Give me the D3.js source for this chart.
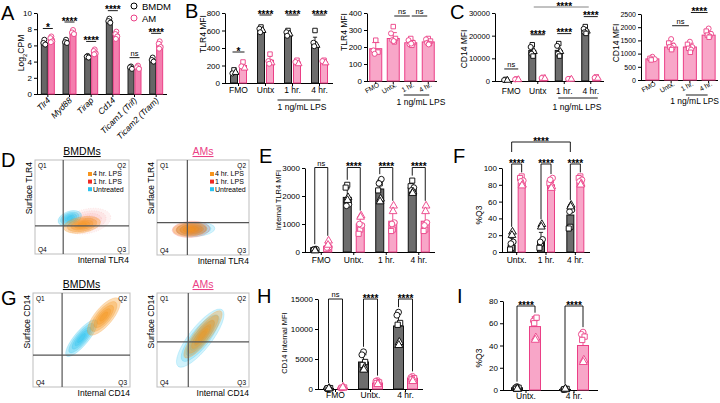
<!DOCTYPE html>
<html>
<head>
<meta charset="utf-8">
<script src="https://cdn.jsdelivr.net/npm/d3@7"></script>
<style>
body { margin: 0; background: #fff; }
svg { display: block; font-family: "Liberation Sans", Arial, Helvetica, sans-serif; }
</style>
</head>
<body>
<svg id="fig" width="720" height="403"></svg>
<script>
// ---- Panel A: RNA-seq log2CPM
const genesA = ['Tlr4', 'Myd88', 'Tirap', 'Cd14', 'Ticam1 (Trif)', 'Ticam2 (Tram)'];
const bmdmA = [6.3, 6.5, 4.6, 9.0, 3.3, 4.2];
const amA = [6.8, 7.6, 5.2, 7.3, 3.3, 6.0];
const bmdmPtsA = [[6.7, 6.3, 6.1], [6.7, 6.4, 6.3], [4.7, 4.6, 4.5], [9.3, 9.0, 8.8], [3.4, 3.3, 3.1], [4.5, 4.2, 4.0]];
const amPtsA = [[7.1, 6.9, 6.5, 6.4], [7.9, 7.6, 7.4], [5.5, 5.3, 5.0, 4.9], [7.7, 7.4, 7.1, 6.8], [3.5, 3.3, 3.1], [6.5, 6.2, 5.8, 5.6]];
const sigA = ['*', '****', '****', '****', 'ns', '****'];

// ---- Panel B: surface TLR4 MFI
const catsB = ['FMO', 'Untx', '1 hr.', '4 hr.'];
const bmdmB = [130, 610, 570, 440];
const amB = [200, 260, 240, 240];
const bmdmPtsB = [[150, 110, 120], [640, 620, 600, 580], [600, 580, 560, 540], [600, 460, 430, 420]];
const amPtsB = [[240, 190, 170], [330, 250, 230, 220], [260, 240, 220], [260, 250, 230]];
const sigB = ['*', '****', '****', '****'];
const catsB2 = ['FMO', 'Untx.', '1 hr.', '4 hr.'];
const amB2 = [190, 250, 225, 230];
const amPtsB2 = [[240, 180, 170, 160], [320, 280, 250, 240, 230, 235], [250, 240, 225, 215, 210, 220], [250, 245, 235, 225, 220, 215]];
const sigB2 = [['Untx.', '1 hr.', 'ns'], ['1 hr.', '4 hr.', 'ns']];

// ---- Panel C: CD14 MFI
const bmdmC = [500, 13500, 13500, 22500];
const amC = [700, 1300, 900, 1300];
const bmdmPtsC = [[700, 400, 300], [16000, 15000, 13000, 12000, 11000], [16500, 15500, 13000, 12000, 11000], [24000, 23000, 22000, 21500, 21000]];
const amPtsC = [[900, 700, 600], [1600, 1300, 1100], [1000, 900, 800], [1800, 1400, 1200]];
const sigC = ['ns', '****', '****', '****'];
const sigCTop = ['Untx', '4 hr.', '****'];
const amC2 = [800, 1250, 1250, 1700];
const amPtsC2 = [[880, 820, 790, 760], [1550, 1400, 1300, 1250, 1200, 1150], [1450, 1350, 1250, 1200, 1150, 1050], [1950, 1850, 1750, 1700, 1650, 1620]];
const sigC2 = [['Untx.', '1 hr.', 'ns'], ['1 hr.', '4 hr.', '****']];

// ---- Panels D / G: flow populations (data units 0-100 on both axes)
const popColor = { '4 hr. LPS': '#f7941d', '1 hr. LPS': '#ee2a24', 'Untreated': '#2bc3f0' };
const legendPops = ['4 hr. LPS', '1 hr. LPS', 'Untreated'];
const flowTlr4Bmdm = [
  { pop: '1 hr. LPS', cx: 56, cy: 35, rx: 25, ry: 13, angle: 12, alpha: 0.06 },
  { pop: 'Untreated', cx: 37, cy: 38, rx: 13, ry: 7.5, angle: 20, alpha: 0.3 },
  { pop: '4 hr. LPS', cx: 50, cy: 31, rx: 20, ry: 8.5, angle: 10, alpha: 0.32 }
];
const flowTlr4Am = [
  { pop: 'Untreated', cx: 42, cy: 27, rx: 21, ry: 7.5, angle: 3, alpha: 0.2 },
  { pop: '1 hr. LPS', cx: 37, cy: 27, rx: 20.5, ry: 8.5, angle: 3, alpha: 0.15 },
  { pop: '4 hr. LPS', cx: 36, cy: 27, rx: 18.5, ry: 7.5, angle: 3, alpha: 0.32 }
];
const flowCd14Bmdm = [
  { pop: 'Untreated', cx: 50, cy: 52, rx: 24, ry: 7.5, angle: 50, alpha: 0.3 },
  { pop: '4 hr. LPS', cx: 73, cy: 75, rx: 24, ry: 9.5, angle: 50, alpha: 0.32 }
];
const flowCd14Am = [
  { pop: 'Untreated', cx: 47, cy: 52, rx: 39, ry: 12, angle: 52, alpha: 0.22 },
  { pop: '4 hr. LPS', cx: 50, cy: 56, rx: 32, ry: 8.5, angle: 52, alpha: 0.32 }
];
const gatesD = { bmdm: [30, 30], am: [33, 34] };
const gatesG = { bmdm: [30, 34], am: [34, 48] };

// ---- Panel E: internal TLR4 MFI
const catsE = ['FMO', 'Untx.', '1 hr.', '4 hr.'];
const shapesE = ['square', 'square', 'circle', 'circle', 'triangle', 'triangle'];
const bmdmE = [80, 1950, 2250, 2300];
const amE = [200, 1000, 1100, 1100];
const bmdmPtsE = [[90, 70, 100, 80, 60, 50], [2400, 2300, 1700, 1650, 1950, 1850], [2450, 2200, 2600, 2450, 1900, 1800], [2550, 2350, 2300, 2200, 2150, 2100]];
const amPtsE = [[150, 120, 180, 160, 400, 250], [800, 650, 950, 1000, 1300, 1250], [800, 750, 1050, 1000, 1650, 1450], [800, 750, 1050, 950, 1650, 1450]];
const sigE = ['ns', '****', '****', '****'];

// ---- Panel F: %Q3 TLR4
const catsF = ['Untx.', '1 hr.', '4 hr.'];
const bmdmF = [8, 12, 44];
const amF = [82, 80, 83];
const bmdmPtsF = [[5, 3, 12, 10, 24, 20], [10, 5, 15, 12, 33, 30], [30, 28, 50, 48, 56, 54]];
const amPtsF = [[90, 88, 85, 84, 80, 79], [85, 82, 88, 86, 78, 76], [90, 88, 86, 84, 81, 80]];
const sigF = ['****', '****', '****'];
const sigFTop = ['Untx.', '4 hr.', '****'];

// ---- Panel H: CD14 internal MFI
const catsH = ['FMO', 'Untx.', '4 hr.'];
const shapesH = ['circle', 'circle', 'square', 'square', 'triangle', 'triangle'];
const bmdmH = [100, 4500, 10500];
const amH = [150, 1000, 1800];
const bmdmPtsH = [[100, 80, 150, 120, 100, 80], [6200, 5700, 4500, 4000, 3500, 3200], [12800, 12300, 11000, 10700, 7800, 7300]];
const amPtsH = [[200, 150, 250, 200, 300, 250], [1400, 1300, 1100, 1000, 900, 800], [2100, 1900, 1800, 1600, 1500, 1300]];
const sigH = ['ns', '****', '****'];

// ---- Panel I: %Q3 CD14
const catsI = ['Untx.', '4 hr.'];
const bmdmI = [2, 0.5];
const amI = [57, 40];
const bmdmPtsI = [[3, 2, 2, 1, 1, 1], [1, 0.5, 1, 0.5, 0.5, 1]];
const amPtsI = [[64, 62, 65, 60, 47, 45], [52, 50, 48, 45, 27, 25]];
const sigI = ['****', '****'];

const svg = d3.select('#fig');
const GRAY = '#6d6d6d', DARK = '#111', PINK = '#eb3f86', PINK_FILL = '#f8a6c8', PINK_A = '#f47eae';
const symbols = { circle: d3.symbolCircle, square: d3.symbolSquare, triangle: d3.symbolTriangle };
const jitter = [0, -1.6, 1.6, -0.8, 0.8, 0.3];

function txt(x, y, s, size, o = {}) {
    const t = svg.append('text')
        .attr('font-size', size)
        .attr('fill', o.fill || '#000')
        .attr('text-anchor', o.anchor || 'start')
        .text(s);
    if (o.rotate) t.attr('transform', `translate(${x},${y}) rotate(${o.rotate})`);
    else t.attr('x', x).attr('y', y);
    if (o.weight) t.attr('font-weight', o.weight);
    if (o.italic) t.attr('font-style', 'italic');
    if (o.underline) t.attr('text-decoration', 'underline');
    return t;
}

function hline(x1, x2, yy, color) {
    svg.append('line').attr('x1', x1).attr('x2', x2).attr('y1', yy).attr('y2', yy)
        .attr('stroke', color || '#000').attr('stroke-width', 0.9);
}

function sigLabel(x, lineY, label) {
    const star = label.indexOf('*') >= 0;
    txt(x, star ? lineY + 2.8 : lineY - 1.8, label, star ? 10 : 7.5,
        { anchor: 'middle', weight: star ? 'bold' : null });
}

function bracket(x1, x2, yTop, y1, y2, label) {
    svg.append('path').attr('d', `M${x1},${y1}V${yTop}H${x2}V${y2}`)
        .attr('fill', 'none').attr('stroke', '#000').attr('stroke-width', 0.9);
    sigLabel((x1 + x2) / 2, yTop, label);
}

// generic grouped bar + dots panel
function barPanel(o) {
    const y = d3.scaleLinear().domain([0, o.yMax]).range([o.bottom, o.top]);
    const x = d3.scaleBand().domain(o.cats).range([o.bandLeft || o.left, o.right]);
    const cx = c => x(c) + x.bandwidth() / 2;
    const g = svg.append('g');

    const ya = g.append('g').attr('transform', `translate(${o.left},0)`)
        .call(d3.axisLeft(y).tickValues(o.yTicks).tickFormat(d3.format('d'))
            .tickSize(3).tickSizeOuter(0).tickPadding(2));
    const xa = g.append('g').attr('transform', `translate(0,${o.bottom})`)
        .call(d3.axisBottom(x).tickSize(3).tickSizeOuter(0).tickFormat(''));
    xa.select('.domain').attr('d', `M${o.left},0.5H${o.right}`);
    [ya, xa].forEach(a => {
        a.attr('font-family', null).attr('font-size', null);
        a.select('.domain').attr('stroke', '#000').attr('stroke-width', 1);
        a.selectAll('.tick line').attr('stroke', '#000');
    });
    ya.selectAll('.tick text').attr('font-size', o.tickFont || 8).attr('fill', '#000');

    o.series.forEach(s => {
        const rows = o.cats.map((c, i) => ({ c, v: s.bars[i], pts: s.pts[i] }));
        const bw = o.barW;
        g.selectAll(null).data(rows).enter().append('rect')
            .attr('x', d => cx(d.c) + s.dx - bw / 2)
            .attr('y', d => y(d.v))
            .attr('width', bw)
            .attr('height', d => o.bottom - y(d.v))
            .attr('fill', s.fill)
            .attr('stroke', s.stroke)
            .attr('stroke-width', 1);
        // SD error bar (upper half)
        g.selectAll(null).data(rows).enter().append('path')
            .attr('d', d => {
                const sd = d3.deviation(d.pts) || 0;
                const xx = cx(d.c) + s.dx, top = y(d.v + sd);
                return `M${xx},${y(d.v)}V${top}M${xx - bw * 0.3},${top}H${xx + bw * 0.3}`;
            })
            .attr('fill', 'none').attr('stroke', s.stroke).attr('stroke-width', 0.9);
        const flat = [];
        rows.forEach(d => d.pts.forEach((p, j) => flat.push({ c: d.c, p, j })));
        g.selectAll(null).data(flat).enter().append('path')
            .attr('d', d => d3.symbol().type(symbols[o.shapes[d.j % o.shapes.length]]).size(o.ptSize)())
            .attr('transform', d => `translate(${cx(d.c) + s.dx + jitter[d.j % jitter.length] * (o.jit || 1)},${y(d.p)})`)
            .attr('fill', '#fff')
            .attr('stroke', s.ptStroke)
            .attr('stroke-width', 0.9);
    });

    // category labels
    if (o.labels === 'rot') {
        o.cats.forEach(c => txt(cx(c) + 4, o.bottom + 5, c, 6.8, { anchor: 'end', rotate: -30 }));
    } else if (o.labels === 'gene') {
        o.cats.forEach(c => txt(cx(c) + 3, o.bottom + 7, c, 8.5, { anchor: 'end', rotate: -45, italic: true }));
    } else {
        o.cats.forEach(c => txt(cx(c), o.labelY, c, 8.5, { anchor: 'middle' }));
    }
    return { x, y, cx };
}

function lpsNote(x1, x2, lineY, textX, textY, anchor) {
    hline(x1, x2, lineY);
    txt(textX, textY, '1 ng/mL LPS', 8.5, { anchor: anchor || 'middle' });
}

const bmdmSeries = (bars, pts, dx) => ({ bars, pts, dx, fill: GRAY, stroke: DARK, ptStroke: '#000' });
const amSeries = (bars, pts, dx) => ({ bars, pts, dx, fill: PINK_FILL, stroke: PINK, ptStroke: PINK });

// ================= A =================
const pA = barPanel({
    left: 37, right: 167, top: 13, bottom: 94, yMax: 10, yTicks: [0, 2, 4, 6, 8, 10],
    cats: genesA, barW: 6, shapes: ['circle'], ptSize: 20, labels: 'gene', jit: 0.6,
    series: [
        { bars: bmdmA, pts: bmdmPtsA, dx: -3.5, fill: '#666', stroke: '#222', ptStroke: '#000' },
        { bars: amA, pts: amPtsA, dx: 3.5, fill: PINK_A, stroke: PINK, ptStroke: PINK }
    ]
});
sigA.forEach((lab, i) => {
    const c = genesA[i];
    const ly = pA.y(d3.max(bmdmPtsA[i].concat(amPtsA[i]))) - 8;
    hline(pA.cx(c) - 5, pA.cx(c) + 5, ly);
    sigLabel(pA.cx(c), ly, lab);
});
const yLabA = txt(24, 53, '', 8.5, { anchor: 'middle', rotate: -90 });
yLabA.append('tspan').text('Log');
yLabA.append('tspan').attr('font-size', 6).attr('dy', 2.5).text('2');
yLabA.append('tspan').attr('dy', -2.5).text('CPM');
// legend
svg.append('circle').attr('cx', 134).attr('cy', 6).attr('r', 3).attr('fill', '#fff').attr('stroke', '#000');
txt(142, 9.5, 'BMDM', 9.5);
svg.append('circle').attr('cx', 134).attr('cy', 18).attr('r', 3).attr('fill', '#fff').attr('stroke', PINK);
txt(142, 21.5, 'AM', 9.5);

// ================= B =================
const pB = barPanel({
    left: 225, right: 333, top: 13, bottom: 83, yMax: 800, yTicks: [0, 200, 400, 600, 800],
    cats: catsB, barW: 7, shapes: ['square', 'circle', 'triangle', 'circle'], ptSize: 20, labelY: 93,
    series: [bmdmSeries(bmdmB, bmdmPtsB, -4.5), amSeries(amB, amPtsB, 4.5)]
});
sigB.forEach((lab, i) => {
    const c = catsB[i];
    const ly = lab === '*' ? pB.y(d3.max(bmdmPtsB[i].concat(amPtsB[i]))) - 10 : pB.y(800) + 2;
    hline(pB.cx(c) - 6, pB.cx(c) + 6, ly);
    sigLabel(pB.cx(c), ly, lab);
});
lpsNote(pB.cx('1 hr.') - 15, pB.cx('4 hr.') + 1, 100, 302, 110);
txt(206, 34, 'TLR4 MFI', 8.5, { anchor: 'middle', rotate: -90 });

const pB2 = barPanel({
    left: 367, right: 437, top: 13, bottom: 81, yMax: 400, yTicks: [0, 100, 200, 300, 400],
    cats: catsB2, barW: 12, shapes: ['square', 'circle', 'square', 'circle', 'square', 'circle'], ptSize: 20, labels: 'rot', jit: 1.4,
    series: [amSeries(amB2, amPtsB2, 0)]
});
sigB2.forEach(([a, b, lab]) => {
    const ly = pB2.y(400) + 3;
    hline(pB2.cx(a) + 1, pB2.cx(b) - 1, ly);
    sigLabel((pB2.cx(a) + pB2.cx(b)) / 2, ly, lab);
});
lpsNote(pB2.cx('1 hr.') - 7, pB2.cx('4 hr.') + 1, 95, 421, 105);
txt(347, 32, 'TLR4 MFI', 8.5, { anchor: 'middle', rotate: -90 });

// ================= C =================
const pC = barPanel({
    left: 495, bandLeft: 498, right: 604, top: 13, bottom: 81, yMax: 30000, yTicks: [0, 10000, 20000, 30000],
    cats: catsB, barW: 7, shapes: ['square', 'circle', 'triangle', 'circle', 'square'], ptSize: 20, labelY: 94,
    tickFont: 7.6,
    series: [bmdmSeries(bmdmC, bmdmPtsC, -5.5), amSeries(amC, amPtsC, 5.5)]
});
sigC.forEach((lab, i) => {
    const c = catsB[i];
    const ly = pC.y(d3.max(bmdmPtsC[i].concat(amPtsC[i]))) - 10;
    hline(pC.cx(c) - 7, pC.cx(c) + 7, ly);
    sigLabel(pC.cx(c), ly, lab);
});
{
    const ly = pC.y(30000) - 6;
    hline(pC.cx(sigCTop[0]) - 4, pC.cx(sigCTop[1]) - 2, ly, '#777');
    sigLabel((pC.cx(sigCTop[0]) + pC.cx(sigCTop[1])) / 2, ly, sigCTop[2]);
}
lpsNote(pC.cx('1 hr.') - 6, pC.cx('4 hr.') + 7, 98, 577, 110);
txt(467, 49, 'CD14 MFI', 8.5, { anchor: 'middle', rotate: -90 });

const pC2 = barPanel({
    left: 641, bandLeft: 643, right: 718, top: 14, bottom: 80, yMax: 2500, yTicks: [0, 500, 1000, 1500, 2000, 2500],
    cats: catsB2, barW: 13, shapes: ['circle', 'square', 'circle', 'square', 'circle', 'square'], ptSize: 20, labels: 'rot', jit: 1.5,
    tickFont: 7,
    series: [amSeries(amC2, amPtsC2, 0)]
});
sigC2.forEach(([a, b, lab]) => {
    const ly = pC2.y(d3.max(amPtsC2[catsB2.indexOf(b)])) - 16;
    hline(pC2.cx(a) + 1, pC2.cx(b) - 1, ly);
    sigLabel((pC2.cx(a) + pC2.cx(b)) / 2, ly, lab);
});
lpsNote(pC2.cx('1 hr.') - 4, pC2.cx('4 hr.') - 1, 95, 719, 104, 'end');
txt(619, 43, 'CD14 MFI', 8.5, { anchor: 'middle', rotate: -90 });

// ================= D / G flow plots =================
function flowPlot(o) {
    const sx = d3.scaleLinear().domain([0, 100]).range([o.left, o.right]);
    const sy = d3.scaleLinear().domain([0, 100]).range([o.bottom, o.top]);
    const id = 'clip' + o.left + '_' + o.top;
    svg.append('clipPath').attr('id', id).append('rect')
        .attr('x', o.left).attr('y', o.top).attr('width', o.right - o.left).attr('height', o.bottom - o.top);
    const g = svg.append('g').attr('clip-path', `url(#${id})`);
    o.pops.forEach(p => {
        const px = sx(p.cx), py = sy(p.cy);
        [1, 0.8, 0.6, 0.42, 0.25].forEach(k => {
            g.append('ellipse')
                .attr('cx', px).attr('cy', py)
                .attr('rx', (sx(p.rx) - sx(0)) * k)
                .attr('ry', (sy(0) - sy(p.ry)) * k)
                .attr('transform', `rotate(${-p.angle},${px},${py})`)
                .attr('fill', popColor[p.pop]).attr('fill-opacity', p.alpha)
                .attr('stroke', popColor[p.pop]).attr('stroke-opacity', p.alpha < 0.1 ? 0.25 : 0.45)
                .attr('stroke-width', 0.4)
                .attr('stroke-dasharray', p.alpha < 0.1 ? '0.8,1.6' : null);
        });
    });
    svg.append('rect').attr('x', o.left).attr('y', o.top)
        .attr('width', o.right - o.left).attr('height', o.bottom - o.top)
        .attr('fill', 'none').attr('stroke', '#bdbdbd').attr('stroke-width', 1);
    svg.append('line').attr('x1', sx(o.gate[0])).attr('x2', sx(o.gate[0])).attr('y1', o.top).attr('y2', o.bottom)
        .attr('stroke', '#555').attr('stroke-width', 1.2);
    svg.append('line').attr('x1', o.left).attr('x2', o.right).attr('y1', sy(o.gate[1])).attr('y2', sy(o.gate[1]))
        .attr('stroke', '#555').attr('stroke-width', 1.2);
    txt(o.left + 3, o.top + 7.5, 'Q1', 6.5);
    txt(o.right - 3, o.top + 7.5, 'Q2', 6.5, { anchor: 'end' });
    txt(o.left + 3, o.bottom - 2.5, 'Q4', 6.5);
    txt(o.right - 3, o.bottom - 2.5, 'Q3', 6.5, { anchor: 'end' });
    txt((o.left + o.right) / 2, o.top - 5, o.title, 10.5, { anchor: 'middle', underline: true, fill: o.titleColor });
    txt(o.right, o.bottom + 9, o.xLabel, 8.5, { anchor: 'end' });
    txt(o.left - 3, o.top + 2, o.yLabel, 8.5, { anchor: 'end', rotate: -90 });
    if (o.legend) {
        o.legend.forEach((p, i) => {
            const ly = o.top + 14 + i * 7.6;
            svg.append('rect').attr('x', o.left + 53).attr('y', ly - 2).attr('width', 4).attr('height', 4).attr('fill', popColor[p]);
            txt(o.left + 58, ly + 2.3, p, 7);
        });
    }
}

flowPlot({ left: 35, right: 129, top: 160, bottom: 254, gate: gatesD.bmdm, pops: flowTlr4Bmdm,
    title: 'BMDMs', titleColor: '#000', xLabel: 'Internal TLR4', yLabel: 'Surface TLR4', legend: legendPops });
flowPlot({ left: 157, right: 249, top: 160, bottom: 255, gate: gatesD.am, pops: flowTlr4Am,
    title: 'AMs', titleColor: PINK, xLabel: 'Internal TLR4', yLabel: 'Surface TLR4', legend: legendPops });
flowPlot({ left: 33, right: 130, top: 293, bottom: 387, gate: gatesG.bmdm, pops: flowCd14Bmdm,
    title: 'BMDMs', titleColor: '#000', xLabel: 'Internal CD14', yLabel: 'Surface CD14' });
flowPlot({ left: 157, right: 249, top: 293, bottom: 387, gate: gatesG.am, pops: flowCd14Am,
    title: 'AMs', titleColor: PINK, xLabel: 'Internal CD14', yLabel: 'Surface CD14' });

// ================= E =================
const pE = barPanel({
    left: 305, right: 435, top: 168, bottom: 252, yMax: 3000, yTicks: [0, 1000, 2000, 3000],
    cats: catsE, barW: 8, shapes: shapesE, ptSize: 26, labelY: 263,
    series: [bmdmSeries(bmdmE, bmdmPtsE, -6.5), amSeries(amE, amPtsE, 6.5)]
});
sigE.forEach((lab, i) => {
    const c = catsE[i];
    bracket(pE.cx(c) - 6.5, pE.cx(c) + 6.5, pE.y(3000) - 0.5,
        pE.y(d3.max(bmdmPtsE[i])) - 5, pE.y(d3.max(amPtsE[i])) - 5, lab);
});
txt(281, 200, 'Internal TLR4 MFI', 7.5, { anchor: 'middle', rotate: -90 });

// ================= F =================
const pF = barPanel({
    left: 502, right: 590, top: 168, bottom: 252, yMax: 100, yTicks: [0, 20, 40, 60, 80, 100],
    cats: catsF, barW: 7, shapes: shapesE, ptSize: 26, labelY: 263,
    series: [bmdmSeries(bmdmF, bmdmPtsF, -5), amSeries(amF, amPtsF, 5)]
});
sigF.forEach((lab, i) => {
    const c = catsF[i];
    bracket(pF.cx(c) - 5, pF.cx(c) + 5, pF.y(100) - 4,
        pF.y(d3.max(bmdmPtsF[i])) - 5, pF.y(d3.max(amPtsF[i])) - 4, lab);
});
{
    const yTop = pF.y(100) - 26;
    bracket(pF.cx(sigFTop[0]) - 5, pF.cx(sigFTop[1]) - 5, yTop, yTop + 10, yTop + 10, sigFTop[2]);
}
txt(482, 215, '%Q3', 8.5, { anchor: 'middle', rotate: -90 });

// ================= H =================
const pH = barPanel({
    left: 318, right: 423, top: 299, bottom: 389, yMax: 15000, yTicks: [0, 5000, 10000, 15000],
    cats: catsH, barW: 10, shapes: shapesH, ptSize: 28, labelY: 398,
    series: [bmdmSeries(bmdmH, bmdmPtsH, -7), amSeries(amH, amPtsH, 7)]
});
sigH.forEach((lab, i) => {
    const c = catsH[i];
    bracket(pH.cx(c) - 7, pH.cx(c) + 7, pH.y(15000),
        pH.y(d3.max(bmdmPtsH[i])) - 5, pH.y(d3.max(amPtsH[i])) - 5, lab);
});
txt(287, 343, 'CD14 Internal MFI', 7.5, { anchor: 'middle', rotate: -90 });

// ================= I =================
const pI = barPanel({
    left: 503, bandLeft: 502, right: 598, top: 301, bottom: 390, yMax: 80, yTicks: [0, 20, 40, 60, 80],
    cats: catsI, barW: 11, shapes: shapesH, ptSize: 28, labelY: 399,
    series: [bmdmSeries(bmdmI, bmdmPtsI, -9), amSeries(amI, amPtsI, 9)]
});
sigI.forEach((lab, i) => {
    const c = catsI[i];
    bracket(pI.cx(c) - 9, pI.cx(c) + 9, pI.y(80) + 5,
        pI.y(d3.max(bmdmPtsI[i])) - 5, pI.y(d3.max(amPtsI[i])) - 5, lab);
});
txt(482, 358, '%Q3', 8.5, { anchor: 'middle', rotate: -90 });

// ================= panel letters =================
[['A', 1, 20], ['B', 185, 18], ['C', 450, 19], ['D', 1, 167], ['E', 259, 163],
 ['F', 453, 163], ['G', 1, 305], ['H', 257, 303], ['I', 457, 303]]
    .forEach(([l, x, y]) => txt(x, y, l, 20));
</script>
</body>
</html>
